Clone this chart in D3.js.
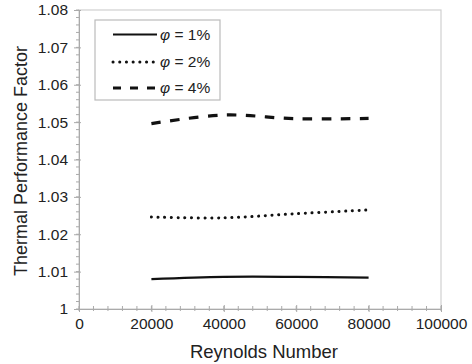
<!DOCTYPE html>
<html><head><meta charset="utf-8">
<script src="https://cdn.jsdelivr.net/npm/d3@7"></script>
<style>body{margin:0;background:#fff;} svg{display:block;font-family:"Liberation Sans",Arial,sans-serif;}</style>
</head><body>
<svg id="c" width="472" height="364"></svg>
<script>
const reynolds = [20000, 40000, 60000, 80000];
const phi1 = [1.0080, 1.0086, 1.0086, 1.0084];
const phi2 = [1.0246, 1.0244, 1.0255, 1.0265];
const phi4 = [1.0496, 1.0519, 1.0509, 1.0510];
const seriesNames = ["φ = 1%", "φ = 2%", "φ = 4%"];
const xTicks = [0, 20000, 40000, 60000, 80000, 100000];
const yTicks = [1, 1.01, 1.02, 1.03, 1.04, 1.05, 1.06, 1.07, 1.08];
const xTitle = "Reynolds Number";
const yTitle = "Thermal Performance Factor";

const svg = d3.select("#c");
const x = d3.scaleLinear().domain([0, 100000]).range([79, 441]);
const y = d3.scaleLinear().domain([1, 1.08]).range([309, 10]);
const axisCol = "#aaa";

// frame
svg.append("rect").attr("x", 79).attr("y", 10).attr("width", 362).attr("height", 299)
  .attr("fill", "none").attr("stroke", "#d0d0d0").attr("stroke-width", 1.2);

// minor ticks
const yMinor = d3.range(0, 41).map(i => 1 + i * 0.002);
svg.append("g").selectAll("line").data(yMinor).join("line")
  .attr("x1", 76).attr("x2", 79).attr("y1", d => y(d)).attr("y2", d => y(d))
  .attr("stroke", axisCol);
const xMinor = d3.range(0, 26).map(i => i * 4000);
svg.append("g").selectAll("line").data(xMinor).join("line")
  .attr("x1", d => x(d)).attr("x2", d => x(d)).attr("y1", 306).attr("y2", 311)
  .attr("stroke", axisCol);

// axes
const yAxis = svg.append("g").attr("transform", "translate(79,0)")
  .call(d3.axisLeft(y).tickValues(yTicks).tickSize(5).tickPadding(6)
    .tickFormat(d => d === 1 ? "1" : d3.format(".2f")(d)));
const xAxis = svg.append("g").attr("transform", "translate(0,309)")
  .call(d3.axisBottom(x).tickValues(xTicks).tickSize(3).tickPadding(6).tickFormat(d3.format("d")));
[xAxis, yAxis].forEach(g => {
  g.select(".domain").attr("stroke", axisCol);
  g.selectAll(".tick line").attr("stroke", axisCol);
  g.selectAll(".tick text").attr("fill", "#222").attr("font-size", 15.5)
   .attr("font-family", "'Liberation Sans',Arial,sans-serif");
});
xAxis.selectAll(".tick line").attr("y1", -4).attr("y2", 3);
yAxis.selectAll(".tick line").attr("x1", -5).attr("x2", 2);

// titles
svg.append("text").attr("x", 264).attr("y", 358).attr("text-anchor", "middle")
  .attr("font-size", 18.5).attr("fill", "#222").text(xTitle);
svg.append("text").attr("transform", "translate(27,161) rotate(-90)").attr("text-anchor", "middle")
  .attr("font-size", 18).attr("fill", "#222").text(yTitle);

// series
const styles = [
  {w: 2.2, dash: null, cap: "butt"},
  {w: 3, dash: "0.1,6.6", cap: "round"},
  {w: 3.2, dash: "9.5,9.5", cap: "butt"}
];
const data = [phi1, phi2, phi4];
const line = d3.line().x(d => x(d[0])).y(d => y(d[1])).curve(d3.curveCardinal.tension(0));
data.forEach((vals, i) => {
  svg.append("path").datum(reynolds.map((r, j) => [r, vals[j]]))
    .attr("d", line).attr("fill", "none").attr("stroke", "#111")
    .attr("stroke-width", styles[i].w).attr("stroke-dasharray", styles[i].dash)
    .attr("stroke-linecap", styles[i].cap);
});

// legend
svg.append("rect").attr("x", 95).attr("y", 20).attr("width", 125).attr("height", 80)
  .attr("fill", "#fff").attr("stroke", "#bbb").attr("stroke-width", 1.2);
const rowsY = [34.5, 62, 88];
seriesNames.forEach((name, i) => {
  svg.append("line").attr("x1", 113).attr("x2", 157).attr("y1", rowsY[i]).attr("y2", rowsY[i])
    .attr("stroke", "#111").attr("stroke-width", styles[i].w)
    .attr("stroke-dasharray", i === 2 ? "8,9" : styles[i].dash).attr("stroke-linecap", styles[i].cap);
  const t = svg.append("text").attr("x", 160).attr("y", rowsY[i] + 5).attr("font-size", 15.5).attr("fill", "#222");
  t.append("tspan").attr("font-style", "italic").text(name.slice(0, 1));
  t.append("tspan").text(name.slice(1));
});
</script>
</body></html>
